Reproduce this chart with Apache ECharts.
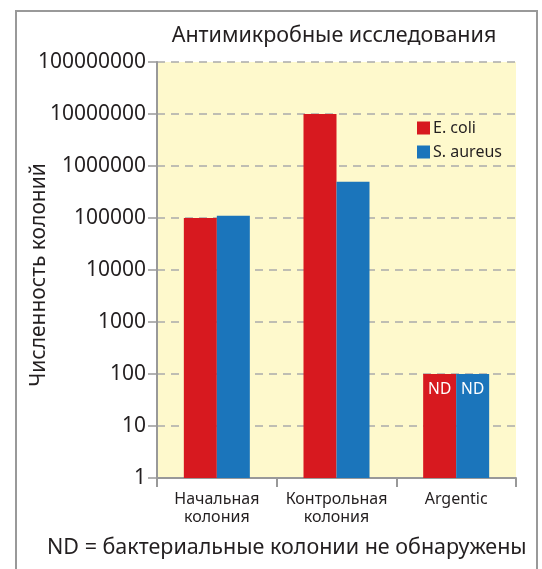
<!DOCTYPE html>
<html>
<head>
<meta charset="utf-8">
<script src="https://cdn.jsdelivr.net/npm/echarts@6/dist/echarts.min.js"></script>
<style>html,body{margin:0;padding:0;background:#fff}#c{width:542px;height:569px}</style>
</head>
<body>
<div id="c"></div>
<script>
const categories = ['Начальная\nколония', 'Контрольная\nколония', 'Argentic'];
const ecoli = [100000, 10000000, 100];
const saureus = [110000, 500000, 100];
const ndLabels = ['', '', 'ND'];
const seriesNames = ['E. coli', 'S. aureus'];
const titleText = 'Антимикробные исследования';
const yName = 'Численность колоний';
const footText = 'ND = бактериальные колонии не обнаружены';

const font = '"Noto Sans", "Open Sans", sans-serif';
const txt = '#231f20';
const chart = echarts.init(document.getElementById('c'), null, {renderer: 'canvas'});
function lbl(i){ return ndLabels[i]; }
chart.setOption({
  animation: false,
  textStyle: {fontFamily: font},
  title: {
    text: titleText, left: 329, top: 20, textAlign: 'center',
    textStyle: {fontFamily: font, fontSize: 21.5, fontWeight: 'normal', color: txt}
  },
  legend: {
    data: seriesNames, orient: 'vertical', left: 412, top: 115,
    itemWidth: 13, itemHeight: 13, itemGap: 8, icon: 'rect',
    textStyle: {fontFamily: font, fontSize: 16, color: txt, padding: [0,0,0,-2]}
  },
  grid: {
    left: 157, right: 26, top: 62, bottom: 91, show: true,
    backgroundColor: '#fef9cc', borderWidth: 0
  },
  xAxis: {
    type: 'category', data: categories,
    axisLine: {lineStyle: {color: '#999', width: 2}},
    axisTick: {show: true, length: 9, lineStyle: {color: '#999', width: 2}},
    axisLabel: {fontFamily: font, fontSize: 16, color: txt, lineHeight: 18, margin: 12, interval: 0}
  },
  yAxis: {
    type: 'log', logBase: 10, min: 1, max: 100000000,
    name: yName, nameLocation: 'middle', nameRotate: 90, nameGap: 107, nameMoveOverlap: false,
    nameTextStyle: {fontFamily: font, fontSize: 21, color: txt, padding: [0, 10, 0, 0]},
    axisLine: {show: true, lineStyle: {color: '#999', width: 2}},
    axisTick: {show: true, length: 9, lineStyle: {color: '#999', width: 1.5}},
    axisLabel: {fontFamily: font, fontSize: 21, color: txt, margin: 11,
      formatter: v => String(Math.round(v))},
    splitLine: {show: true, lineStyle: {color: '#aaa', type: [8, 6], width: 1.5}}
  },
  graphic: [
    {type: 'rect', shape: {x: 16, y: 11, width: 521, height: 600},
     style: {fill: 'none', stroke: '#999', lineWidth: 2}, z: 100},
    {type: 'text', left: 47, top: 537,
     style: {text: footText, font: '21.5px ' + font, fill: txt}}
  ],
  series: [
    {name: seriesNames[0], type: 'bar', data: ecoli, barWidth: 33, barGap: '0%',
     itemStyle: {color: '#d7191f'},
     label: {show: true, position: 'insideTop', distance: 8, color: '#fff', fontSize: 15.5, fontFamily: font,
       formatter: p => lbl(p.dataIndex)}},
    {name: seriesNames[1], type: 'bar', data: saureus, barWidth: 33, barGap: '0%',
     itemStyle: {color: '#1b75bb'},
     label: {show: true, position: 'insideTop', distance: 8, color: '#fff', fontSize: 15.5, fontFamily: font,
       formatter: p => lbl(p.dataIndex)}}
  ]
});
</script>
</body>
</html>
